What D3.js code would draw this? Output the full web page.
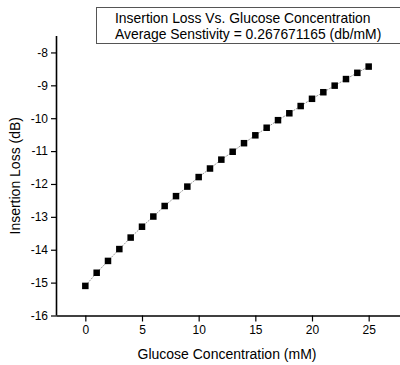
<!DOCTYPE html>
<html>
<head>
<meta charset="utf-8">
<script src="https://cdn.jsdelivr.net/npm/d3@7"></script>
<style>
    body { margin: 0; background: #fff; }
    svg { display: block; }
    text { font-family: "Liberation Sans", Arial, sans-serif; }
</style>
</head>
<body>
<div id="wrapper"></div>
<script>
// Glucose concentration (mM) and measured insertion loss (dB)
const concentration = [0, 1, 2, 3, 4, 5, 6, 7, 8, 9, 10, 11, 12, 13, 14, 15, 16, 17, 18, 19, 20, 21, 22, 23, 24, 25]
const insertionLoss = [-15.10, -14.70, -14.34, -13.98, -13.63, -13.30, -12.99, -12.67, -12.37, -12.08,
    -11.79, -11.53, -11.26, -11.02, -10.76, -10.52, -10.29, -10.06, -9.85, -9.63,
    -9.41, -9.21, -9.01, -8.81, -8.62, -8.43]
const xTicks = [0, 5, 10, 15, 20, 25]
const yTicks = [-16, -15, -14, -13, -12, -11, -10, -9, -8]
const legendLines = [
    "Insertion Loss Vs. Glucose Concentration",
    "Average Senstivity = 0.267671165 (db/mM)",
]

function drawChart() {
    const data = concentration.map((c, i) => ({ x: c, y: insertionLoss[i] }))
    const xAccessor = d => d.x
    const yAccessor = d => d.y

    let dimensions = {
        width: 400,
        height: 365,
        margin: { top: 36, right: 3, bottom: 49.5, left: 57 },
    }
    dimensions.boundedWidth = dimensions.width - dimensions.margin.left - dimensions.margin.right
    dimensions.boundedHeight = dimensions.height - dimensions.margin.top - dimensions.margin.bottom

    const wrapper = d3.select("#wrapper")
        .append("svg")
        .attr("width", dimensions.width)
        .attr("height", dimensions.height)

    const bounds = wrapper.append("g")
        .attr("transform", `translate(${dimensions.margin.left},${dimensions.margin.top})`)

    const xScale = d3.scaleLinear()
        .domain([-2.5, 27.5])
        .range([0, dimensions.boundedWidth])

    const yScale = d3.scaleLinear()
        .domain([-16, -7.5])
        .range([dimensions.boundedHeight, 0])

    // minor ticks first (short), then major axes
    const xMinor = d3.range(-2.5, 27.6, 5)
    const yMinor = d3.range(-15.5, -7.4, 1)

    const xAxis = bounds.append("g")
        .attr("transform", `translate(0,${dimensions.boundedHeight})`)
    xAxis.call(d3.axisBottom(xScale).tickValues(xMinor).tickSize(4).tickFormat(""))
    xAxis.call(d3.axisBottom(xScale).tickValues(xTicks).tickSize(6).tickPadding(4).tickFormat(d3.format("d")))

    const yAxis = bounds.append("g")
    yAxis.call(d3.axisLeft(yScale).tickValues(yMinor).tickSize(4).tickFormat(""))
    yAxis.call(d3.axisLeft(yScale).tickValues(yTicks).tickSize(6).tickPadding(3).tickFormat(d => d3.format("d")(d).replace("−", "-")))

    bounds.selectAll(".domain")
        .attr("stroke", "#000")
        .attr("stroke-width", 1.6)
    xAxis.select(".domain").attr("d", `M0,0.5H${dimensions.boundedWidth + 3}`)
    yAxis.select(".domain").attr("d", `M-0.5,${dimensions.boundedHeight}V0`)
    bounds.selectAll(".tick line")
        .attr("stroke", "#000")
        .attr("stroke-width", 1.2)
    bounds.selectAll(".tick text")
        .attr("font-size", 12)
        .attr("fill", "#000")
        .style("font-family", "'Liberation Sans', Arial, sans-serif")

    // connecting line
    const lineGenerator = d3.line()
        .x(d => xScale(xAccessor(d)))
        .y(d => yScale(yAccessor(d)))

    bounds.append("path")
        .attr("d", lineGenerator(data))
        .attr("fill", "none")
        .attr("stroke", "#9a9a9a")
        .attr("stroke-width", 1)
        .attr("stroke-dasharray", "2,1")

    // square markers
    const size = 6.5
    bounds.selectAll(".marker")
        .data(data)
        .join("rect")
        .attr("class", "marker")
        .attr("x", d => xScale(xAccessor(d)) - size / 2)
        .attr("y", d => yScale(yAccessor(d)) - size / 2)
        .attr("width", size)
        .attr("height", size)
        .attr("fill", "#000")

    // axis titles
    wrapper.append("text")
        .attr("x", dimensions.margin.left + dimensions.boundedWidth / 2)
        .attr("y", 359)
        .attr("text-anchor", "middle")
        .attr("font-size", 14)
        .text("Glucose Concentration (mM)")

    wrapper.append("text")
        .attr("transform", `translate(20,${dimensions.margin.top + dimensions.boundedHeight / 2}) rotate(-90)`)
        .attr("text-anchor", "middle")
        .attr("font-size", 14)
        .text("Insertion Loss (dB)")

    // legend box
    wrapper.append("rect")
        .attr("x", 96.5)
        .attr("y", 7.5)
        .attr("width", 310)
        .attr("height", 36)
        .attr("fill", "#fff")
        .attr("stroke", "#555")
        .attr("stroke-width", 1)

    wrapper.selectAll(".legend-line")
        .data(legendLines)
        .join("text")
        .attr("class", "legend-line")
        .attr("x", 115)
        .attr("y", (d, i) => 22.5 + i * 16.5)
        .attr("font-size", 13.9)
        .text(d => d)
}

drawChart()
</script>
</body>
</html>
